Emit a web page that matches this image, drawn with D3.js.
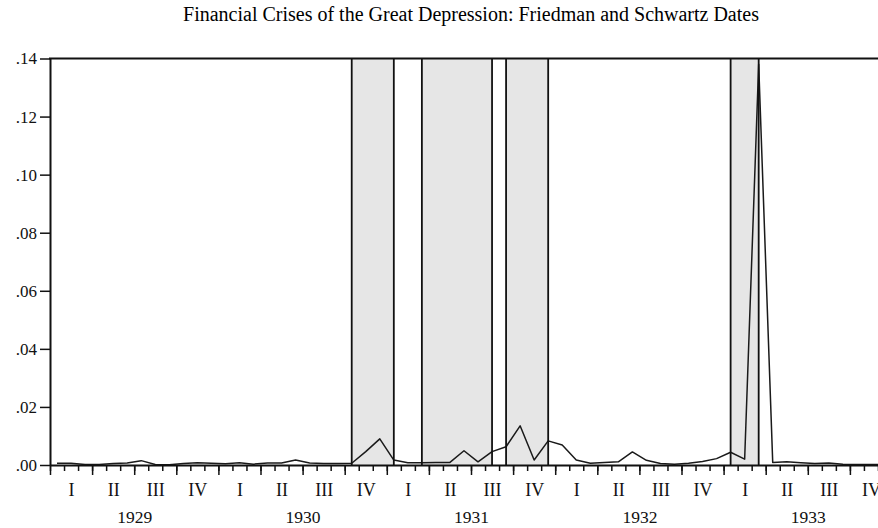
<!DOCTYPE html>
<html>
<head>
<meta charset="utf-8">
<script src="https://cdn.jsdelivr.net/npm/d3@7"></script>
<style>
  body { margin: 0; background: #fff; }
  svg { display: block; }
  svg text { font-family: "Liberation Serif", "Times New Roman", serif; }
</style>
</head>
<body>
<div id="chart"></div>
<script>
var width = 878;
var height = 528;
var margin = {"top": 58.5, "left": 50, "bottom": 465};

// monthly series, Jan 1929 .. Dec 1933
var years = [1929, 1930, 1931, 1932, 1933];
var quarters = ["I", "II", "III", "IV"];
var values = [
  0.0006, 0.0006, 0.0002, 0.0002, 0.0005, 0.0007, 0.0015, 0.0002, 0.0001, 0.0005, 0.0008, 0.0006,
  0.0004, 0.0008, 0.0003, 0.0007, 0.0007, 0.0017, 0.0007, 0.0005, 0.0005, 0.0006, 0.0046, 0.0090,
  0.0017, 0.0008, 0.0008, 0.0009, 0.0009, 0.0049, 0.0011, 0.0046, 0.0063, 0.0135, 0.0017, 0.0083,
  0.0069, 0.0017, 0.0006, 0.0009, 0.0011, 0.0045, 0.0016, 0.0005, 0.0003, 0.0006, 0.0012, 0.0022,
  0.0044, 0.0020, 0.1380, 0.0009, 0.0011, 0.0008, 0.0005, 0.0007, 0.0003, 0.0002, 0.0002, 0.0002
];
// crisis periods (month index, 0 = Jan 1929)
var crisisStart = [21, 26, 32, 48];
var crisisEnd = [24, 31, 35, 50];
var yTicks = [0, 0.02, 0.04, 0.06, 0.08, 0.10, 0.12, 0.14];

var xScale = d3.scaleLinear()
    .domain([0, 60])
    .range([margin.left, 892]);
var yScale = d3.scaleLinear()
    .domain([0, 0.14])
    .range([margin.bottom, margin.top]);

var svg = d3.select("#chart").append("svg")
    .attr("width", width)
    .attr("height", height);

// title
svg.append("text")
    .attr("x", 471)
    .attr("y", 21)
    .attr("text-anchor", "middle")
    .style("font-size", "20px")
    .text("Financial Crises of the Great Depression: Friedman and Schwartz Dates");

// shaded crises
var crises = crisisStart.map(function(s, i){ return [s, crisisEnd[i]]; });
svg.selectAll("rect.crisis")
    .data(crises)
    .enter().append("rect")
    .attr("class", "crisis")
    .attr("x", function(d){ return xScale(d[0] + 0.5); })
    .attr("y", yScale(0.14))
    .attr("width", function(d){ return xScale(d[1] + 0.5) - xScale(d[0] + 0.5); })
    .attr("height", yScale(0) - yScale(0.14))
    .attr("fill", "#e6e6e6");

// data line
var line = d3.line()
    .x(function(d, i){ return xScale(i + 0.5); })
    .y(function(d){ return yScale(d); });
svg.append("path")
    .datum(values)
    .attr("d", line)
    .attr("fill", "none")
    .attr("stroke", "#1a1a1a")
    .attr("stroke-width", 1.5)
    .attr("stroke-linejoin", "round");

// crisis borders
var edges = crisisStart.concat(crisisEnd);
svg.selectAll("line.edge")
    .data(edges)
    .enter().append("line")
    .attr("class", "edge")
    .attr("x1", function(d){ return xScale(d + 0.5); })
    .attr("x2", function(d){ return xScale(d + 0.5); })
    .attr("y1", yScale(0.14))
    .attr("y2", yScale(0))
    .attr("stroke", "#111")
    .attr("stroke-width", 1.8);

// frame top
svg.append("line")
    .attr("x1", margin.left - 1)
    .attr("x2", 892)
    .attr("y1", yScale(0.14))
    .attr("y2", yScale(0.14))
    .attr("stroke", "#111")
    .attr("stroke-width", 2);

// y axis
var yAxis = d3.axisLeft(yScale)
    .tickValues(yTicks)
    .tickSizeInner(10)
    .tickSizeOuter(0)
    .tickPadding(3)
    .tickFormat(function(d){ return d3.format(".2f")(d).replace(/^0/, ""); });
var gy = svg.append("g")
    .attr("transform", "translate(" + [margin.left, 0] + ")")
    .call(yAxis);
gy.attr("font-family", null);
gy.select(".domain").attr("stroke", "#111").attr("stroke-width", 2);
gy.selectAll(".tick line").attr("stroke", "#111").attr("stroke-width", 1.5);
gy.selectAll("text").style("font-size", "17px").attr("fill", "#111");

// x axis: month ticks and quarter ticks
var monthAxis = d3.axisBottom(xScale)
    .tickValues(d3.range(0, 61))
    .tickSizeInner(6)
    .tickSizeOuter(0)
    .tickFormat("");
var gm = svg.append("g")
    .attr("transform", "translate(" + [0, margin.bottom] + ")")
    .call(monthAxis);
gm.select(".domain").attr("stroke", "#111").attr("stroke-width", 2.2);
gm.selectAll(".tick line").attr("stroke", "#111").attr("stroke-width", 1.5);

var quarterAxis = d3.axisBottom(xScale)
    .tickValues(d3.range(0, 61, 3))
    .tickSizeInner(10)
    .tickSizeOuter(0)
    .tickFormat("");
var gq = svg.append("g")
    .attr("transform", "translate(" + [0, margin.bottom] + ")")
    .call(quarterAxis);
gq.select(".domain").remove();
gq.selectAll(".tick line").attr("stroke", "#111").attr("stroke-width", 1.5);

// quarter labels
var qLabelAxis = d3.axisBottom(xScale)
    .tickValues(d3.range(1.5, 60, 3))
    .tickSize(0)
    .tickPadding(18)
    .tickFormat(function(d){ return quarters[Math.floor(d / 3) % 4]; });
var gql = svg.append("g")
    .attr("transform", "translate(" + [0, margin.bottom] + ")")
    .call(qLabelAxis);
gql.attr("font-family", null);
gql.select(".domain").remove();
gql.selectAll("text").style("font-size", "18px").attr("fill", "#111");

// year labels
var yearAxis = d3.axisBottom(xScale)
    .tickValues(d3.range(6, 60, 12))
    .tickSize(0)
    .tickPadding(46)
    .tickFormat(function(d){ return years[Math.floor(d / 12)]; });
var gyr = svg.append("g")
    .attr("transform", "translate(" + [0, margin.bottom] + ")")
    .call(yearAxis);
gyr.attr("font-family", null);
gyr.select(".domain").remove();
gyr.selectAll("text").style("font-size", "17.5px").attr("fill", "#111");
</script>
</body>
</html>
